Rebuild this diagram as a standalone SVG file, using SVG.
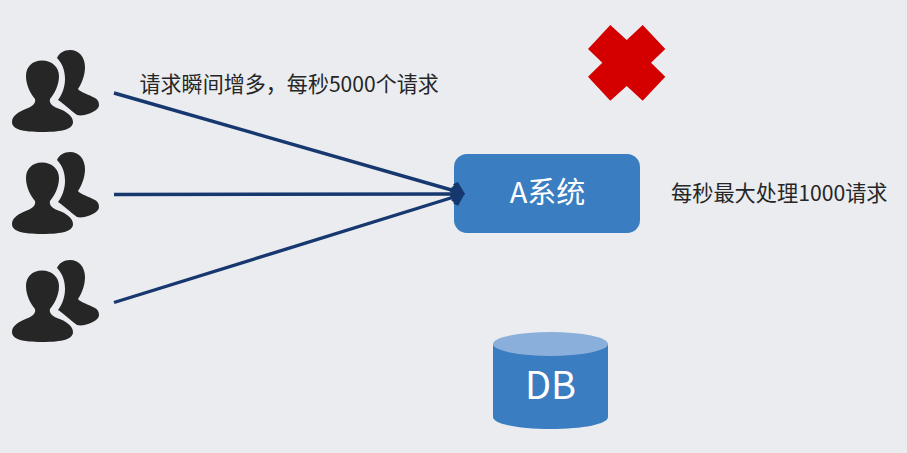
<svg xmlns="http://www.w3.org/2000/svg" width="907" height="453" viewBox="0 0 907 453">
<style>
text{font-family:"Noto Sans CJK SC","Noto Sans",sans-serif}
.lbl{font-size:21.200px;fill:#262626}
.w{fill:#fff;text-anchor:middle}
.user{fill:#262626}
.conn{fill:none;stroke:#17376f;stroke-width:3.400;marker-end:url(#arrow)}
</style>
<defs>
<marker id="arrow" markerUnits="userSpaceOnUse" markerWidth="16" markerHeight="20" refX="11" refY="10" orient="auto">
<polygon points="14,10 4,0.500 0,4 7,10 0,16 4,19.500" fill="#17376f"/>
</marker>
<symbol id="users" width="110" height="100" viewBox="0 50 110 100" overflow="visible">
<path d="M42,60.500C32,60.500 26,67 26,76C26,86 31,94 35,99C36,103 33,106 28,108C18,112 12,116 12,122C12,129 22,132 42,132C63,132 73,129 73,122C73,116 66,111 57,108C52,106 49,103 50,99C54,94 59,86 59,76C59,67 52,60.500 42,60.500Z"/>
<path d="M70,50C64,50 59,53 57,58C62,63 65,70 65,79C65,87 62,95 58,100C63,103 70,110 77,115C81,116 85,115 88,114C94,112 99,109 99,105C99,101 97,99 95,98C90,95 80,92 78,89C82,83 85,75 85,67C85,57 79,50 70,50Z"/>
</symbol>
</defs>
<rect width="907" height="453" fill="#eaecf0"/>
<g id="users-1" class="user"><use href="#users" x="0" y="50"/></g>
<g id="users-2" class="user"><use href="#users" x="0" y="152"/></g>
<g id="users-3" class="user"><use href="#users" x="0" y="260"/></g>
<g id="system-a">
<rect x="454" y="154" width="186" height="79" rx="13" fill="#3a7dc1"/>
<text class="w" x="547.500" y="203" font-size="29">A系统</text>
</g>
<g id="db">
<path d="M493,344V417C493,424 518,429 550.500,429C583,429 608,424 608,417V344Z" fill="#3a7dc1"/>
<ellipse cx="550.500" cy="344" rx="57.500" ry="12" fill="#8aafdb"/>
<text class="w" x="550.500" y="399" font-size="38">DB</text>
</g>
<g id="cross">
<polygon points="610.300,25 626.700,40 642.700,25 665.300,49 651,62.700 665.300,76.700 642.700,100.700 626.700,86 610.300,100.700 588,76.700 602.300,62.700 588,49" fill="#d40000"/>
</g>
<g id="connectors">
<line class="conn" x1="114" y1="93" x2="462" y2="193"/>
<line class="conn" x1="114" y1="194.500" x2="462" y2="194"/>
<line class="conn" x1="114" y1="302.500" x2="462" y2="194.500"/>
</g>
<text class="lbl" x="139.500" y="92" style="font-size:21.050px">请求瞬间增多，每秒5000个请求</text>
<text class="lbl" x="671" y="201">每秒最大处理1000请求</text>
</svg>
